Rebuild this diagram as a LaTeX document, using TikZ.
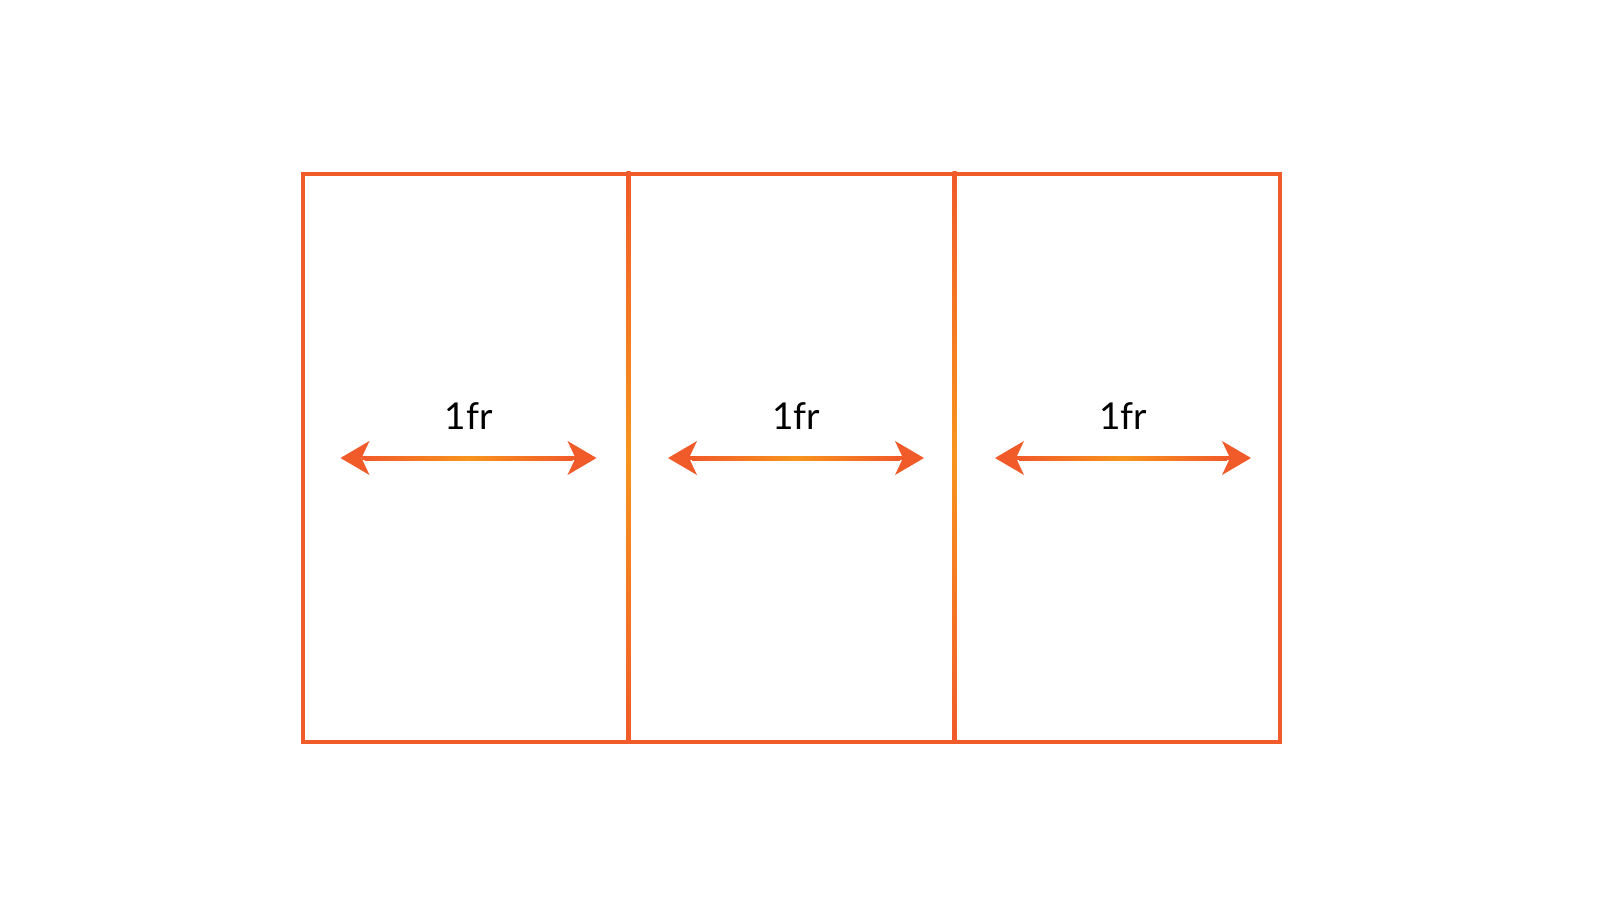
\documentclass[tikz,border=0pt]{standalone}
\usepackage{fontspec}
\setmainfont{Lato}
\usetikzlibrary{arrows.meta}
\definecolor{rorange}{RGB}{241,90,41}
\definecolor{morange}{RGB}{247,148,29}
\tikzset{
  frame/.style={draw=rorange, line width=4pt},
  tipstyle/.style={},
  dimarrow/.style={rorange, line width=4pt, {Stealth[length=29pt,width=34pt,inset=8pt,line width=0pt]}-{Stealth[length=29pt,width=34pt,inset=8pt,line width=0pt]}},
  lbl/.style={anchor=base, inner sep=0pt, font=\fontsize{37}{40}\selectfont, text=black},
}
\begin{document}
\begin{tikzpicture}[x=1pt,y=-1pt]
\useasboundingbox (0,0) rectangle (1600,899);
\fill[white] (0,0) rectangle (1600,899);
% outer frame
\draw[frame] (303,174) rectangle (1280,742);
% inner dividers (shaded vertically)
\foreach \x/\n in {628.5/a,954.5/b}{
  \coordinate (top\n) at (\x,171);
  \coordinate (bot\n) at (\x,740);
  \shade[top color=rorange, bottom color=rorange, middle color=morange] (\x-2,171) rectangle (\x+2,740);
}
% arrows
\foreach \c/\n in {468.5/one,796/two,1123/three}{
  \coordinate (l\n) at (\c-128,458);
  \coordinate (r\n) at (\c+128,458);
  \draw[dimarrow] (l\n) -- (r\n);
  \shade[left color=rorange, right color=rorange, middle color=morange] (\c-104,456) rectangle (\c+104,460);
  \node[lbl] (t\n) at (\c,429) {1fr};
}
\end{tikzpicture}
\end{document}
